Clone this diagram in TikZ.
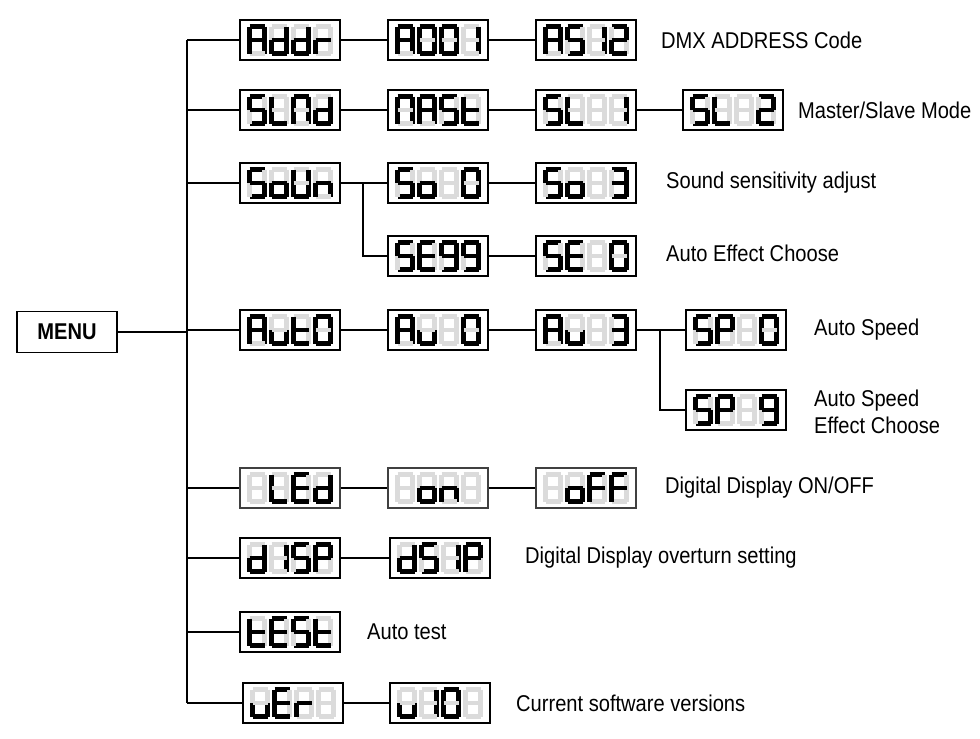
\documentclass[tikz,border=0pt]{standalone}
\usepackage{fontspec}
\usepackage{xstring}
\setmainfont{Liberation Sans}[FakeStretch=0.88]
\definecolor{ghost}{gray}{0.86}
\tikzset{
  disp/.style={draw, line width=1.2pt, minimum width=2cm, minimum height=0.8cm, inner sep=0pt},
  thin disp/.style={disp, draw=black!75, line width=0.8pt},
  menu/.style={draw, line width=0.8pt, minimum width=2cm, minimum height=0.82cm, font=\bfseries\fontsize{13}{15}\selectfont},
  lbl/.style={anchor=west, font=\fontsize{13}{15}\selectfont},
  link/.style={line width=1.2pt}
}
% one seven segment digit at (#1,#2), lit segments #3
\newcommand{\dig}[3]{%
  \foreach \s/\xa/\ya/\xb/\yb in {a/-7.5/-13.5/7.5/-13.5, b/7.5/-13.5/7.5/0, c/7.5/0/7.5/13.5, d/-7.5/13.5/7.5/13.5,
                                  e/-7.5/0/-7.5/13.5, f/-7.5/-13.5/-7.5/0, g/-7.5/0/7.5/0}{%
    \IfSubStr{#3}{\s}{\def\segcol{black}}{\def\segcol{ghost}}%
    \draw[\segcol, line width=2.6pt, line cap=butt] (#1+\xa,#2+\ya) -- (#1+\xb,#2+\yb);
  }%
}
% display box #2 at (#3,#4) with four digits
\newcommand{\disp}[8][disp]{%
  \node[#1] (#2) at (#3,#4) {};
  \dig{#3-33}{#4}{#5}\dig{#3-11}{#4}{#6}\dig{#3+11}{#4}{#7}\dig{#3+33}{#4}{#8}
}
\begin{document}
\begin{tikzpicture}[x=0.02cm, y=-0.02cm]
    \useasboundingbox (0,0) rectangle (980,738);

    % main menu and trunk
    \node[menu] (menu) at (67,332) {MENU};
    \coordinate (top) at (187,40);
    \coordinate (bot) at (187,703);
    \draw[link] (top) -- (bot);
    \draw[link] (menu.east) -- (187,332);

    % DMX address
    \disp{addr}{290}{40}{abcefg}{bcdeg}{bcdeg}{eg}
    \disp{aone}{438}{40}{abcefg}{abcdef}{abcdef}{bc}
    \disp{alast}{586}{40}{abcefg}{acdfg}{bc}{abdeg}
    \node[lbl] (laddr) at (655,40) {DMX ADDRESS Code};

    % master / slave
    \disp{slnd}{290}{110}{acdfg}{def}{abcef}{bcdeg}
    \disp{mast}{438}{110}{abcef}{abcefg}{acdfg}{defg}
    \disp{slone}{586}{110}{acdfg}{def}{}{bc}
    \disp{sltwo}{733}{110}{acdfg}{def}{}{abdeg}
    \node[lbl] (lslnd) at (792,110) {Master/Slave Mode};

    % sound
    \disp{soun}{290}{183}{acdfg}{cdeg}{bcdef}{ceg}
    \disp{sozero}{438}{183}{acdfg}{cdeg}{}{abcdef}
    \disp{sothree}{586}{183}{acdfg}{cdeg}{}{abcdg}
    \node[lbl] (lsoun) at (660,183) {Sound sensitivity adjust};
    \disp{senine}{438}{256}{acdfg}{adefg}{abcdfg}{abcdfg}
    \disp{sezero}{586}{256}{acdfg}{adefg}{}{abcdef}
    \node[lbl] (lse) at (660,253) {Auto Effect Choose};

    % auto
    \disp{auto}{290}{330}{abcefg}{cde}{defg}{abcdef}
    \disp{auzero}{438}{330}{abcefg}{cde}{}{abcdef}
    \disp{authree}{586}{330}{abcefg}{cde}{}{abcdg}
    \disp{spzero}{736}{330}{acdfg}{abefg}{}{abcdef}
    \node[lbl] (lsp) at (808,330) {Auto Speed};
    \disp{spnine}{736}{410}{acdfg}{abefg}{}{abcdfg}
    \node[lbl, align=left] (lspn) at (808,412) {Auto Speed\\Effect Choose};

    % led display
    \disp[thin disp]{led}{290}{488}{}{def}{adefg}{bcdeg}
    \disp[thin disp]{on}{438}{488}{}{cdeg}{ceg}{}
    \disp[thin disp]{off}{586}{488}{}{cdeg}{aefg}{aefg}
    \node[lbl] (lled) at (659,488) {Digital Display ON/OFF};

    % overturn, test, version
    \disp{disp}{290}{558}{bcdeg}{bc}{acdfg}{abefg}
    \disp{dsip}{440}{558}{bcdeg}{acdfg}{bc}{abefg}
    \node[lbl] (ldisp) at (519,558) {Digital Display overturn setting};
    \disp{test}{290}{632}{defg}{adefg}{acdfg}{defg}
    \node[lbl] (ltest) at (361,632) {Auto test};
    \disp{ver}{293}{703}{cde}{adefg}{eg}{}
    \disp{vone}{440}{703}{cde}{bc}{abcdef}{}
    \node[lbl] (lver) at (510,703) {Current software versions};

    % connectors from trunk
    \foreach \n/\y in {addr/40, slnd/110, soun/183, auto/330, led/488, disp/558, test/632, ver/703}
        \draw[link] (187,\y) -- (\n.west);
    \draw[link] (addr) -- (aone) (aone) -- (alast);
    \draw[link] (slnd) -- (mast) (mast) -- (slone) (slone) -- (sltwo);
    \draw[link] (soun) -- (sozero) (sozero) -- (sothree);
    \draw[link] (soun.east) -| (363,256) -- (senine.west);
    \draw[link] (senine) -- (sezero);
    \draw[link] (auto) -- (auzero) (auzero) -- (authree) (authree) -- (spzero);
    \draw[link] (authree.east) -| (660,410) -- (spnine.west);
    \draw[link] (led) -- (on) (on) -- (off);
    \draw[link] (disp) -- (dsip);
    \draw[link] (ver) -- (vone);

\end{tikzpicture}
\end{document}
